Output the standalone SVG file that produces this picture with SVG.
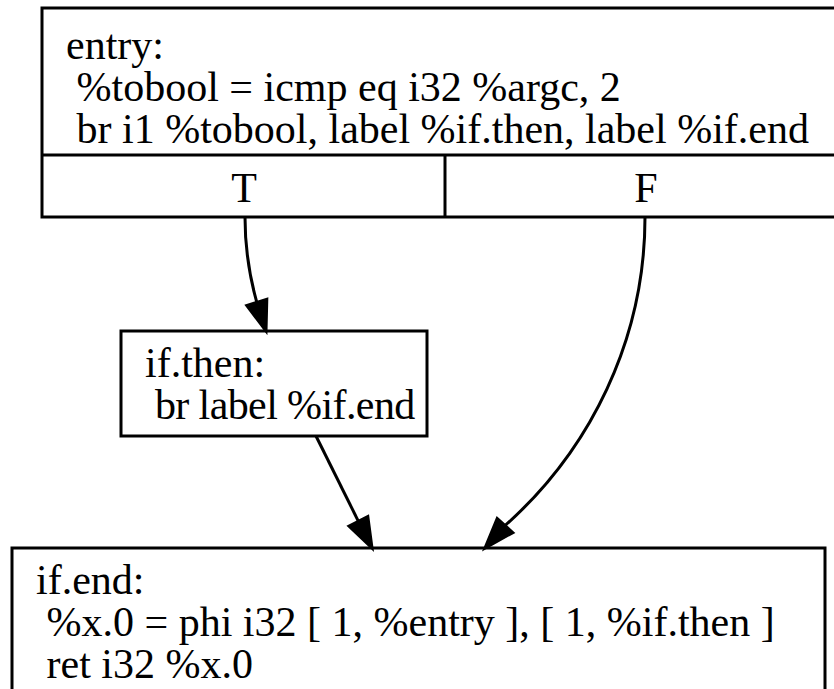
<svg xmlns="http://www.w3.org/2000/svg" width="834" height="689" viewBox="0 0 834 689">
<style>
  .box { fill: #ffffff; stroke: #000000; stroke-width: 3; }
  .div { stroke: #000000; stroke-width: 3; fill: none; }
  .lbl { font-family: "Liberation Serif", "Times New Roman", serif; font-size: 42px; fill: #000000; }
  .mid { text-anchor: middle; }
  .tight { letter-spacing: -0.6px; }
  .edge { fill: none; stroke: #000000; stroke-width: 3; }
  .head { fill: #000000; stroke: #000000; stroke-width: 3; }
</style>
<rect x="0" y="0" width="834" height="689" fill="#ffffff"/>
<g id="node-entry">
  <rect class="box" x="42" y="8" width="806" height="209"/>
  <line class="div" x1="42" y1="155" x2="848" y2="155"/>
  <line class="div" x1="445" y1="155" x2="445" y2="217"/>
  <text class="lbl" x="66" y="59">entry:</text>
  <text class="lbl" x="66" y="101" xml:space="preserve"> %tobool = icmp eq i32 %argc, 2</text>
  <text class="lbl" x="66" y="143" xml:space="preserve"> br i1 %tobool, label %if.then, label %if.end</text>
  <text class="lbl mid" x="244" y="202">T</text>
  <text class="lbl mid" x="646" y="202">F</text>
</g>
<g id="node-ifthen">
  <rect class="box" x="121" y="331" width="306" height="105"/>
  <text class="lbl" x="145" y="377">if.then:</text>
  <text class="lbl tight" x="145" y="419" xml:space="preserve"> br label %if.end</text>
</g>
<g id="node-ifend">
  <rect class="box" x="12" y="548" width="813" height="160"/>
  <text class="lbl" x="36" y="594">if.end:</text>
  <text class="lbl" x="36" y="636" xml:space="preserve"> %x.0 = phi i32 [ 1, %entry ], [ 1, %if.then ]</text>
  <text class="lbl" x="36" y="678" xml:space="preserve"> ret i32 %x.0</text>
</g>
<g id="connectors">
  <path class="edge" d="M245,217 C245,250 250,278 256.8,302.4"/>
  <polygon class="head" points="266.8,299.2 266,331 246.8,305.6"/>
  <path class="edge" d="M316,436 L358.4,521.3"/>
  <polygon class="head" points="367.8,516.5 372,548 349,526.1"/>
  <path class="edge" d="M645,217 C645,340 590,450 505,525.6"/>
  <polygon class="head" points="512.8,532.6 485,548 497.2,518.6"/>
</g>
</svg>
